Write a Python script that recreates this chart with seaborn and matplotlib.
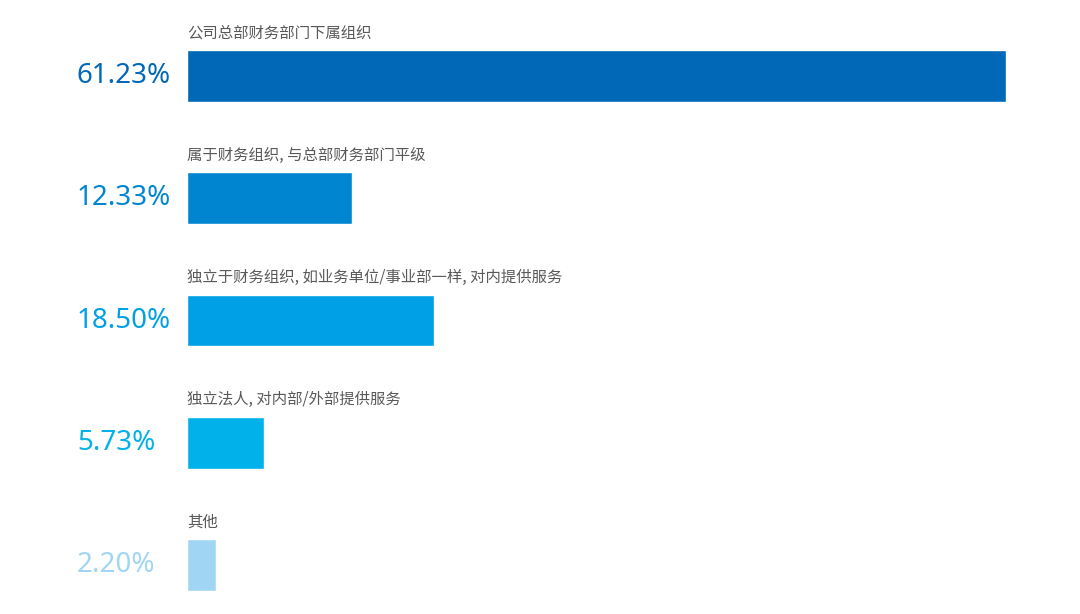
import matplotlib
matplotlib.use("Agg")
import matplotlib.pyplot as plt
import matplotlib.transforms as mtransforms
import pandas as pd
import seaborn as sns

categories = [
    "公司总部财务部门下属组织",
    "属于财务组织, 与总部财务部门平级",
    "独立于财务组织, 如业务单位/事业部一样, 对内提供服务",
    "独立法人, 对内部/外部提供服务",
    "其他",
]
values = [61.23, 12.33, 18.50, 5.73, 2.20]
value_labels = ["61.23%", "12.33%", "18.50%", "5.73%", "2.20%"]
colors = ["#0068B7", "#0086D1", "#00A0E6", "#00B1EA", "#A0D6F4"]

sns.set_style("white")
plt.rcParams["font.family"] = ["Noto Sans CJK SC", "DejaVu Sans"]

df = pd.DataFrame({"category": categories, "value": values})

fig = plt.figure(figsize=(10.8, 6.14), dpi=100)
ax = fig.add_axes([187 / 1080, 0, (1006 - 187) / 1080, 1])

sns.barplot(data=df, x="value", y="category", hue="category",
            palette=colors, width=0.425, legend=False, ax=ax, saturation=1)

ax.set_xlim(0, 61.23)
ax.set_ylim(4 + 49 / 122.25, -76 / 122.25)
ax.axis("off")

trans = mtransforms.blended_transform_factory(fig.transFigure, ax.transData)
for i, (cat, lab, col) in enumerate(zip(categories, value_labels, colors)):
    ax.text(0, i - 0.352, cat, ha="left", va="center", fontsize=11.1,
            color="#595959")
    ax.text(77 / 1080, i, lab, transform=trans, ha="left", va="center",
            fontsize=20, color=col, family=["Noto Sans", "DejaVu Sans"])

fig.savefig("out.png", dpi=100, facecolor="white")
